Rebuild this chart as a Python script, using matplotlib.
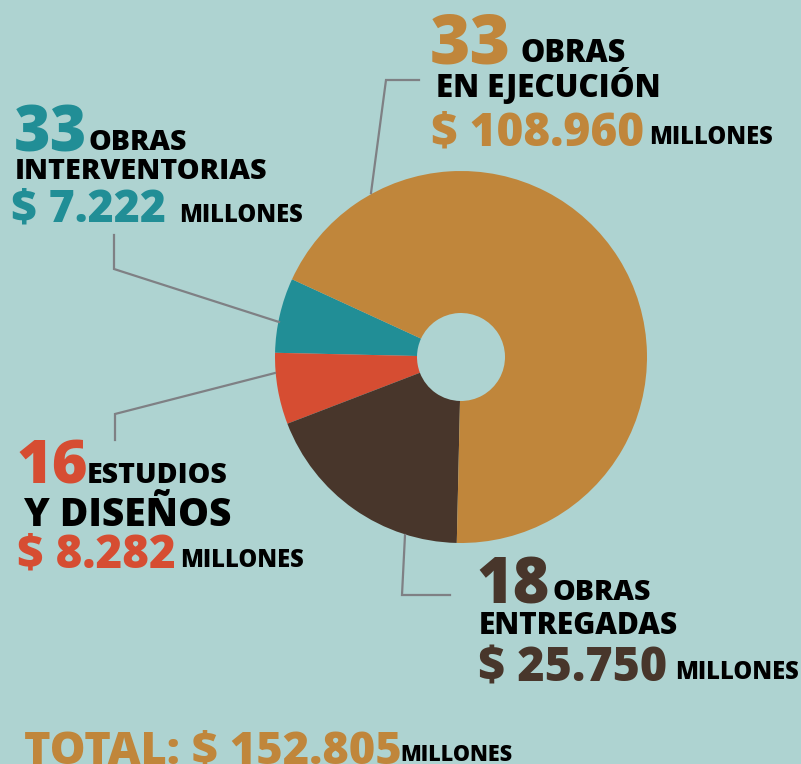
import matplotlib
matplotlib.use("Agg")
import matplotlib.pyplot as plt
from matplotlib.lines import Line2D

# datos del grafico
categorias = ["Interventorias", "Estudios y diseños", "Obras entregadas", "Obras en ejecución"]
cantidades = ["33", "16", "18", "33"]
montos = ["$ 7.222", "$ 8.282", "$ 25.750", "$ 108.960"]
# proporcion de cada porcion tal como se ve en el grafico (%)
porciones = [6.5, 6.2, 18.8, 68.5]
colores = ["#218e96", "#d64d32", "#48362b", "#c0863b"]
total = "TOTAL: $ 152.805"

fondo = "#aed3d1"
W, H = 801, 764

fig = plt.figure(figsize=(W / 100, H / 100), dpi=100, facecolor=fondo)

# pie en pixeles: centro (461, 357), radio 186
cx, cy, r = 461, 357, 186
ax = fig.add_axes([(cx - r) / W, (H - cy - r) / H, 2 * r / W, 2 * r / H])
ax.pie(porciones, colors=colores, startangle=155.3, counterclock=True,
       wedgeprops=dict(width=1 - 44 / 186, linewidth=0))
ax.set_xlim(-1, 1)
ax.set_ylim(-1, 1)
ax.axis("off")


def fx(x):
    return x / W


def fy(y):
    return 1 - y / H


# lineas guia
guias = [
    [(371, 193), (386, 80), (419, 80)],
    [(279, 322), (114, 269), (114, 235)],
    [(275, 373), (115, 414), (115, 440)],
    [(405, 535), (402, 595), (450, 595)],
]
for g in guias:
    xs = [fx(p[0]) for p in g]
    ys = [fy(p[1]) for p in g]
    fig.add_artist(Line2D(xs, ys, color="#7f8084", lw=1.6, solid_joinstyle="miter"))

fuente = "Open Sans"


def texto(x, y, s, size, color="black"):
    fig.text(fx(x), fy(y), s, fontsize=size, color=color, fontfamily=fuente,
             fontweight="heavy", ha="left", va="baseline")


# Obras en ejecucion
texto(430, 63, cantidades[3], 50, colores[3])
texto(521, 62, "OBRAS", 22)
texto(436, 97, "EN EJECUCIÓN", 22.5)
texto(431, 146, montos[3], 33, colores[3])
texto(649, 144, "MILLONES", 17)

# Interventorias
texto(14, 151, cantidades[0], 45, colores[0])
texto(89, 150, "OBRAS", 20.5)
texto(15, 179, "INTERVENTORIAS", 20.7)
texto(11, 222, montos[0], 32, colores[0])
texto(179, 222, "MILLONES", 17)

# Estudios y disenos
texto(16, 484, cantidades[1], 44, colores[1])
texto(87, 483, "ESTUDIOS", 20.5)
texto(24, 526, "Y DISEÑOS", 28)
texto(17, 568, montos[1], 32.8, colores[1])
texto(180, 567, "MILLONES", 17)

# Obras entregadas
texto(476, 603, cantidades[2], 45, colores[2])
texto(552, 600, "OBRAS", 20.5)
texto(479, 634, "ENTREGADAS", 21.5)
texto(478, 682, montos[2], 33.5, colores[2])
texto(675, 679, "MILLONES", 17)

# total
texto(24, 764, total, 32.5, colores[3])
texto(400, 761, "MILLONES", 15.5)

fig.savefig("out.png", dpi=100, facecolor=fondo)
